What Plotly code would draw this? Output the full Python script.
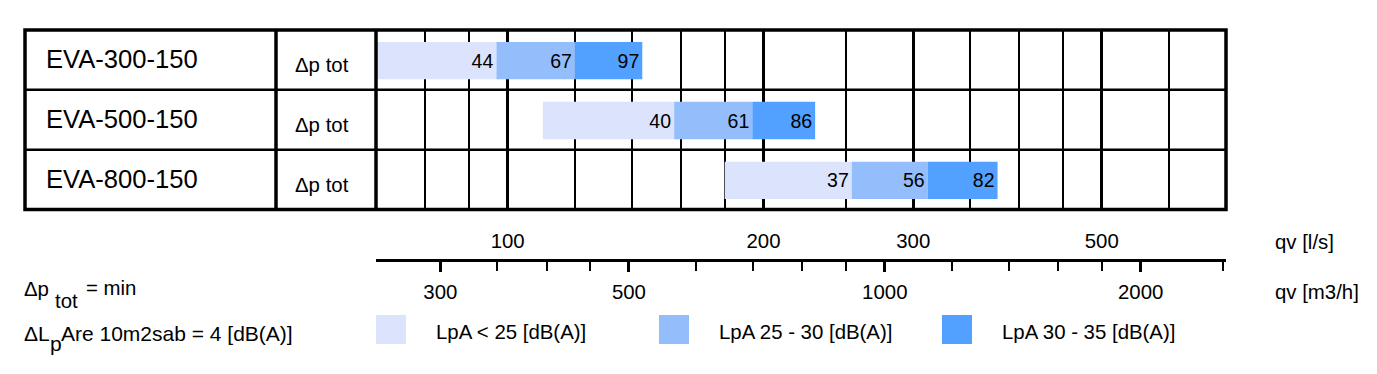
import numpy as np
import plotly.graph_objects as go

# ---------------- data ----------------
models = ["EVA-300-150", "EVA-500-150", "EVA-800-150"]
q_start = [70, 110, 180]          # l/s, start of LpA < 25 band
q_lpa25 = [97, 157, 254]          # l/s, end of LpA < 25 band
q_lpa30 = [120, 194, 312]         # l/s, end of LpA 25-30 band
q_lpa35 = [144, 230, 377]         # l/s, end of LpA 30-35 band
dp_lpa25 = [44, 40, 37]           # Pa labels
dp_lpa30 = [67, 61, 56]
dp_lpa35 = [97, 86, 82]
band_names = ["LpA < 25 [dB(A)]", "LpA 25 - 30 [dB(A)]", "LpA 30 - 35 [dB(A)]"]
band_colors = ["#DCE3FC", "#94BDFC", "#52A0FF"]

q_range = [70, 700]                                   # l/s
grid_major = [100, 200, 300, 500]                     # l/s
grid_minor = [80, 90, 120, 140, 160, 180, 250, 350, 400, 450, 600]
ls_ticks = [100, 200, 300, 500]
m3h_major = [300, 500, 1000, 2000]
m3h_minor = [350, 400, 450, 600, 700, 800, 900, 1200, 1400, 1600, 1800, 2500]
LS_TO_M3H = 3.6

# ---------------- layout constants (page px) ----------------
W, H = 1377, 374
OFF = 8  # page body margin
FONT = "Liberation Sans, Arial, sans-serif"
FS = 20.4
X_TAB_L, X_COL1, X_PLOT_L, X_PLOT_R = 25, 276, 376, 1226
Y_TOP, Y_BOT = 30, 209.5
Y_AXIS = 259.5
XS = -3  # annotation padding compensation


def px(x):
    return (x - OFF) / W


def py(y):
    return 1 - (y - OFF) / H


fig = go.Figure()

bounds = [(q_start, q_lpa25, dp_lpa25), (q_lpa25, q_lpa30, dp_lpa30), (q_lpa30, q_lpa35, dp_lpa35)]
for (lo, hi, lab), name, col in zip(bounds, band_names, band_colors):
    fig.add_trace(go.Bar(
        y=models, x=[h - l for l, h in zip(lo, hi)], base=lo, orientation="h",
        name=name, marker=dict(color=col, line=dict(width=0)),
        width=0.625, offset=-0.3,
        text=[str(v) for v in lab], textposition="inside", insidetextanchor="end",
        textangle=0, constraintext="none",
        insidetextfont=dict(size=19.5, color="black", family=FONT),
        hoverinfo="skip", showlegend=False,
    ))

# invisible carriers so the two scale axes get drawn
fig.add_trace(go.Scatter(x=q_range, y=[models[0]] * 2, xaxis="x2", yaxis="y", mode="markers",
                         marker=dict(opacity=0), hoverinfo="skip", showlegend=False))
fig.add_trace(go.Scatter(x=[q * LS_TO_M3H for q in q_range], y=[models[0]] * 2, xaxis="x3",
                         yaxis="y", mode="markers", marker=dict(opacity=0), hoverinfo="skip",
                         showlegend=False))

lr = [np.log10(q_range[0]), np.log10(q_range[1])]
mr = [np.log10(q_range[0] * LS_TO_M3H), np.log10(q_range[1] * LS_TO_M3H)]
dom = [px(X_PLOT_L), px(X_PLOT_R)]

fig.update_layout(
    width=W, height=H, margin=dict(l=0, r=0, t=0, b=0),
    plot_bgcolor="white", paper_bgcolor="white", barmode="overlay",
    font=dict(family=FONT, size=FS, color="black"), showlegend=False,
    xaxis=dict(type="log", range=lr, domain=dom, showticklabels=False, ticks="",
               tickvals=grid_major, showgrid=True, gridcolor="black", gridwidth=3,
               zeroline=False, showline=False,
               minor=dict(tickvals=grid_minor, showgrid=True, gridcolor="black",
                          gridwidth=2, ticks="")),
    yaxis=dict(type="category", categoryorder="array", categoryarray=models,
               range=[2.5, -0.5], domain=[py(Y_BOT), py(Y_TOP)],
               showticklabels=False, ticks="", showgrid=False, zeroline=False),
    xaxis2=dict(type="log", overlaying="x", anchor="free", position=py(Y_AXIS),
                side="top", range=lr, tickvals=ls_ticks,
                ticktext=[str(v) for v in ls_ticks], ticks="", ticklabelstandoff=2,
                showline=True, linewidth=3, linecolor="black", showgrid=False,
                zeroline=False, tickfont=dict(size=FS, family=FONT, color="black")),
    xaxis3=dict(type="log", overlaying="x", anchor="free", position=py(Y_AXIS),
                side="bottom", range=mr, tickvals=m3h_major,
                ticktext=[str(v) for v in m3h_major], ticks="outside",
                ticklen=11, tickwidth=3, tickcolor="black", showline=False,
                showgrid=False, zeroline=False, ticklabelstandoff=3,
                tickfont=dict(size=FS, family=FONT, color="black"),
                minor=dict(tickvals=m3h_minor, ticks="outside", ticklen=10,
                           tickwidth=2, tickcolor="black", showgrid=False)),
)

shapes = []
# table outer border
shapes.append(dict(type="rect", xref="paper", yref="paper", x0=px(X_TAB_L), x1=px(X_PLOT_R),
                   y0=py(Y_BOT), y1=py(Y_TOP), line=dict(color="black", width=3.5)))
for xc in (X_COL1, X_PLOT_L):
    shapes.append(dict(type="line", xref="paper", yref="paper", x0=px(xc), x1=px(xc),
                       y0=py(Y_BOT), y1=py(Y_TOP), line=dict(color="black", width=3.5)))
for yb in (0.5, 1.5):
    shapes.append(dict(type="line", xref="paper", yref="y", x0=px(X_TAB_L), x1=px(X_PLOT_R),
                       y0=yb, y1=yb, line=dict(color="black", width=2.5)))
# legend squares
LEG_X = [376, 659, 942]
for lx, col in zip(LEG_X, band_colors):
    shapes.append(dict(type="rect", xref="paper", yref="paper", x0=px(lx), x1=px(lx + 30),
                       y0=py(344), y1=py(315), fillcolor=col, line=dict(width=0)))
fig.update_layout(shapes=shapes)

ann = []
for m in models:
    ann.append(dict(x=px(47), y=m, xref="paper", yref="y", text=m, showarrow=False,
                    xanchor="left", yanchor="middle", font=dict(size=25.6), yshift=1, xshift=XS))
    ann.append(dict(x=px(296), y=m, xref="paper", yref="y", text="Δp tot", showarrow=False,
                    xanchor="left", yanchor="middle", font=dict(size=FS), yshift=-5, xshift=XS))
for lx, name in zip(LEG_X, band_names):
    ann.append(dict(x=px(lx + 61), y=py(332), xref="paper", yref="paper", text=name,
                    showarrow=False, xanchor="left", yanchor="middle", font=dict(size=FS),
                    xshift=XS))
ann.append(dict(x=px(1276), y=py(242), xref="paper", yref="paper", text="qv [l/s]",
                showarrow=False, xanchor="left", yanchor="middle", font=dict(size=FS), xshift=XS))
ann.append(dict(x=px(1276), y=py(292), xref="paper", yref="paper", text="qv [m3/h]",
                showarrow=False, xanchor="left", yanchor="middle", font=dict(size=FS), xshift=XS))
# bottom-left notes
notes = [("Δp", 25, 289, FS), ("tot", 56, 301, FS), ("= min", 87, 288, FS),
         ("ΔL", 25, 333, 21), ("p", 51, 343, 21), ("Are 10m2sab = 4 [dB(A)]", 62, 333, 21)]
for t, x, y, s in notes:
    ann.append(dict(x=px(x), y=py(y), xref="paper", yref="paper", text=t, showarrow=False,
                    xanchor="left", yanchor="middle", font=dict(size=s), xshift=XS))
fig.update_layout(annotations=ann)

fig.write_html("out.html")
